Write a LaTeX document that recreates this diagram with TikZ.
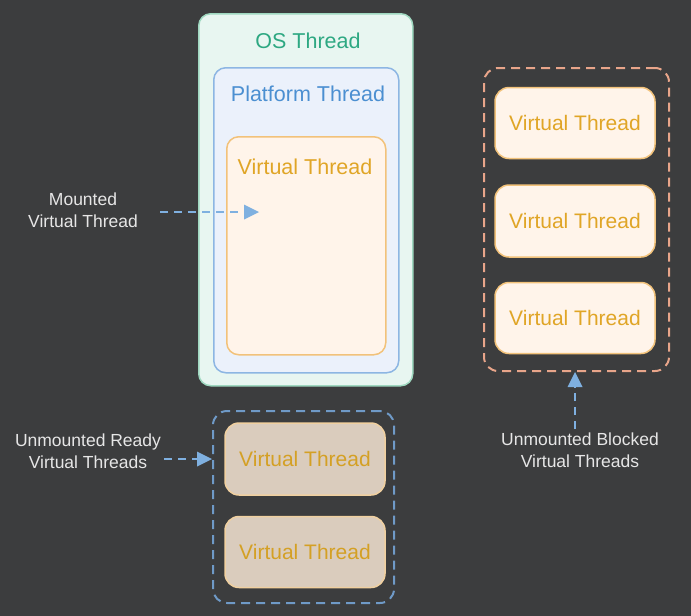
\documentclass[tikz,border=0pt]{standalone}
\usepackage{fontspec}
\setmainfont{Liberation Sans}
\usetikzlibrary{arrows.meta}
\definecolor{bgc}{HTML}{3C3D3E}
\definecolor{osfill}{HTML}{E8F6F1}
\definecolor{osdraw}{HTML}{9FD8C0}
\definecolor{ostext}{HTML}{2DA882}
\definecolor{ptfill}{HTML}{EBF1FB}
\definecolor{ptdraw}{HTML}{8DB6E3}
\definecolor{pttext}{HTML}{4B8FD1}
\definecolor{vtfill}{HTML}{FFF4EA}
\definecolor{vtdraw}{HTML}{F2C27A}
\definecolor{vttext}{HTML}{E0A526}
\definecolor{vtdimfill}{HTML}{DACCBD}
\definecolor{vtdimdraw}{HTML}{F0D0A0}
\definecolor{vtdimtext}{HTML}{D4A024}
\definecolor{bluedash}{HTML}{6F9AC7}
\definecolor{salmondash}{HTML}{E8A58A}
\definecolor{arrowc}{HTML}{7FB0E0}
\definecolor{labtext}{HTML}{E6E6E6}
\tikzset{
  box/.style={rectangle, rounded corners=12pt, line width=1.5pt, anchor=north west, inner sep=0pt},
  vtbox/.style={rectangle, rounded corners=14pt, line width=1.5pt, fill=vtfill, draw=vtdraw,
     minimum width=160pt, text=vttext, font=\fontsize{21}{24}\selectfont},
  vtdim/.style={vtbox, fill=vtdimfill, draw=vtdimdraw, text=vtdimtext},
  groupbox/.style={rectangle, rounded corners=14pt, line width=2pt, dash pattern=on 9pt off 6pt, anchor=north west, inner sep=0pt},
  lab/.style={text=labtext, align=center, font=\fontsize{17.5}{22}\selectfont},
  ttl/.style={font=\fontsize{21.5}{24}\selectfont},
  conn/.style={draw=arrowc, line width=2pt, dash pattern=on 8pt off 6pt,
     -{Triangle[length=15pt,width=15pt,fill=arrowc,line width=0pt]}}
}
\begin{document}
\begin{tikzpicture}[x=1pt,y=-1pt]
\fill[bgc] (0,0) rectangle (691,616);
\useasboundingbox (0,0) rectangle (691,616);
% OS thread stack
\node[box, fill=osfill, draw=osdraw, minimum width=214pt, minimum height=372pt] (os) at (198,13) {};
\node[ttl, text=ostext] (ost) at (308,41) {OS Thread};
\node[box, fill=ptfill, draw=ptdraw, minimum width=185pt, minimum height=305pt] (pt) at (213,67) {};
\node[ttl, text=pttext] (ptt) at (308,94) {Platform Thread};
\node[box, fill=vtfill, draw=vtdraw, minimum width=159pt, minimum height=218pt] (vt) at (226,136) {};
\node[ttl, text=vttext] (vtt) at (305,167) {Virtual Thread};
% mounted label
\node[lab] (mounted) at (83,210) {Mounted\\Virtual Thread};
\coordinate (mtip) at (259,212);
\draw[conn] (160,212) -- (mtip);
% unmounted ready group
\node[groupbox, draw=bluedash, minimum width=181pt, minimum height=192pt] (ready) at (212,410) {};
\node[vtdim, minimum height=72pt] (r1) at (305,459) {Virtual Thread};
\node[vtdim, minimum height=71pt] (r2) at (305,552) {Virtual Thread};
\node[lab] (readylab) at (88,451) {Unmounted Ready\\Virtual Threads};
\draw[conn] (readylab.east |- r1.west) -- (ready.west |- r1.west);
% unmounted blocked group
\node[groupbox, draw=salmondash, minimum width=185pt, minimum height=303pt] (blocked) at (483,67) {};
\node[vtbox, minimum height=71pt] (b1) at (575,123) {Virtual Thread};
\node[vtbox, minimum height=72pt] (b2) at (575,221) {Virtual Thread};
\node[vtbox, minimum height=71pt] (b3) at (575,318) {Virtual Thread};
\node[lab] (blockedlab) at (580,450) {Unmounted Blocked\\Virtual Threads};
\draw[conn] (blockedlab.north -| b3.south) -- (b3.south |- blocked.south);
\end{tikzpicture}
\end{document}
